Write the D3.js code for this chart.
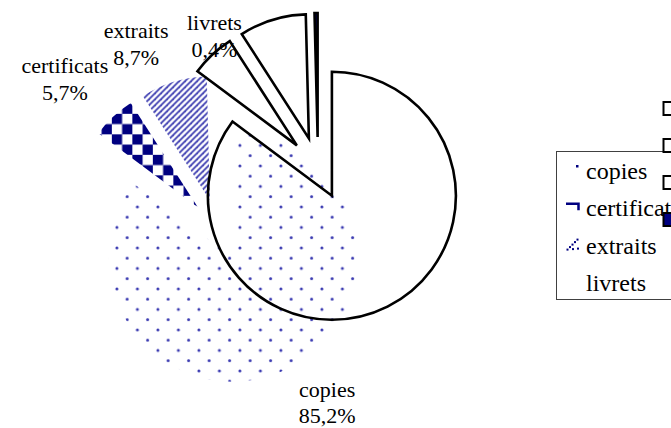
<!DOCTYPE html>
<html>
<head>
<meta charset="utf-8">
<script src="https://cdn.jsdelivr.net/npm/d3@7"></script>
<style>
  html, body { margin: 0; padding: 0; background: #fff; }
  svg { display: block; }
</style>
</head>
<body>
<svg id="chart" width="671" height="428"></svg>
<script>
// Distribution of issued documents (share, %)
const categories = ["copies", "certificats", "extraits", "livrets"];
const shares = [85.2, 5.7, 8.7, 0.4];

// Label placement around the patterned pie: angular nudge (deg) and distance from slice apex
const labelShift = [-7.5, -1.7, -7.4, -0.7];
const labelDist = [168, 189, 178, 169];

const FONT = "Liberation Serif, Tinos, Noto Serif, DejaVu Serif, serif";
const R = 124, EXPLODE = 31;
const NAVY = "#000080";
const DOT = "#3838b0";

const svg = d3.select("#chart");
const defs = svg.append("defs");

// Fill patterns for the patterned pie
const T = 20.5;
const dots = defs.append("pattern").attr("id", "dots")
  .attr("patternUnits", "userSpaceOnUse").attr("width", T).attr("height", T)
  .attr("patternTransform", "translate(7,10.7)");
[[0, 0], [T, 0], [0, T], [T, T], [T / 2, T / 2]].forEach(([x, y]) =>
  dots.append("circle").attr("cx", x).attr("cy", y).attr("r", 1.5).attr("fill", DOT));

const chk = defs.append("pattern").attr("id", "checker")
  .attr("patternUnits", "userSpaceOnUse").attr("width", T).attr("height", T)
  .attr("patternTransform", "translate(119,111.5)");
chk.append("rect").attr("width", T).attr("height", T).attr("fill", "#fff");
chk.append("rect").attr("width", T / 2).attr("height", T / 2).attr("fill", NAVY);
chk.append("rect").attr("x", T / 2).attr("y", T / 2).attr("width", T / 2).attr("height", T / 2).attr("fill", NAVY);

const P = 6;
const str = defs.append("pattern").attr("id", "stripes")
  .attr("patternUnits", "userSpaceOnUse").attr("width", P).attr("height", P);
[[0, P, P, 0], [-1, 1, 1, -1], [P - 1, P + 1, P + 1, P - 1]].forEach(([x1, y1, x2, y2]) =>
  str.append("line").attr("x1", x1).attr("y1", y1).attr("x2", x2).attr("y2", y2)
    .attr("stroke", "#3c3cb0").attr("stroke-width", 1.8));

const patternFill = ["url(#dots)", "url(#checker)", "url(#stripes)", "none"];
const outlineFill = ["none", "none", "none", NAVY];

const pie = d3.pie().sort(null).value(d => d).startAngle(0).endAngle(2 * Math.PI);
const arcs = pie(shares);
const arc = d3.arc().innerRadius(0).outerRadius(R);
const mid = a => (a.startAngle + a.endAngle) / 2;
const offset = (a, d) => [Math.sin(mid(a)) * d, -Math.cos(mid(a)) * d];

const total = d3.sum(shares);
const fmt = v => d3.format(".1f")(v).replace(".", ",") + "%";

// Patterned pie
const gA = svg.append("g").attr("transform", "translate(219,230)");
gA.selectAll("path").data(arcs).join("path")
  .attr("transform", d => `translate(${offset(d, EXPLODE)})`)
  .attr("d", arc)
  .attr("fill", (d, i) => patternFill[i])
  .attr("stroke", "none");

// Category labels
const labels = gA.selectAll("g.lbl").data(arcs).join("g").attr("class", "lbl")
  .attr("transform", (d, i) => {
    const [ox, oy] = offset(d, EXPLODE);
    const ang = mid(d) + labelShift[i] * Math.PI / 180;
    return `translate(${ox + Math.sin(ang) * labelDist[i]},${oy - Math.cos(ang) * labelDist[i]})`;
  });
labels.append("text").attr("text-anchor", "middle").style("font-family", FONT).attr("font-size", 22)
  .text((d, i) => categories[i]);
labels.append("text").attr("text-anchor", "middle").style("font-family", FONT).attr("font-size", 22)
  .attr("y", 26.5).text(d => fmt(d.value / total * 100));

// Outlined pie
const gB = svg.append("g").attr("transform", "translate(318,168)");
gB.selectAll("path").data(arcs).join("path")
  .attr("transform", d => `translate(${offset(d, EXPLODE)})`)
  .attr("d", arc)
  .attr("fill", (d, i) => outlineFill[i])
  .attr("stroke", "#000").attr("stroke-width", 2.6).attr("stroke-linejoin", "miter");

// Legend of the patterned pie
const lg = svg.append("g");
lg.append("rect").attr("x", 556.5).attr("y", 151.5).attr("width", 140).attr("height", 148)
  .attr("fill", "#fff").attr("stroke", "#404040").attr("stroke-width", 1);
const rows = lg.selectAll("g.row").data(categories).join("g").attr("class", "row")
  .attr("transform", (d, i) => `translate(0,${179 + i * 37.3})`);
// tiny key glyphs: a dot, a checker corner, a dotted diagonal, nothing
const keys = [
  g => g.append("rect").attr("x", 576).attr("y", -14).attr("width", 2.5).attr("height", 2.5).attr("fill", NAVY),
  g => g.append("path").attr("d", "M566,-12.5H578.5V-6").attr("fill", "none").attr("stroke", NAVY).attr("stroke-width", 2.5),
  g => [[566.5, -5], [569, -7.5], [571.5, -10], [574, -12.5], [576.5, -15], [572, -5.5], [577, -6]].forEach(([x, y]) =>
    g.append("rect").attr("x", x).attr("y", y).attr("width", 2).attr("height", 2).attr("fill", NAVY)),
  g => {}
];
rows.each(function (d, i) { keys[i](d3.select(this)); });
rows.append("text").attr("x", 586).style("font-family", FONT).attr("font-size", 24).text(d => d);

// Legend keys of the outlined pie
svg.append("g").selectAll("rect").data(categories).join("rect")
  .attr("x", 663.5).attr("y", (d, i) => 102 + i * 37)
  .attr("width", 13).attr("height", 13)
  .attr("fill", (d, i) => i === 3 ? NAVY : "#fff")
  .attr("stroke", "#000").attr("stroke-width", 2);
</script>
</body>
</html>
